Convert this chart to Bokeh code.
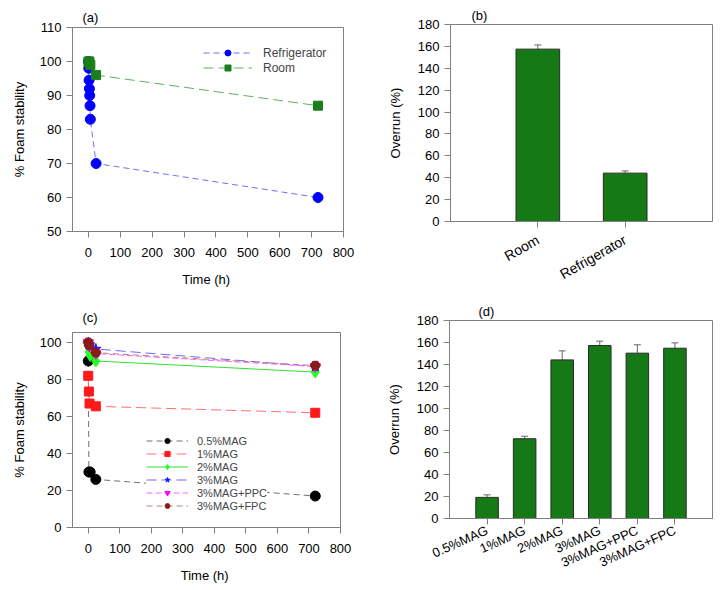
from bokeh.plotting import figure
from bokeh.layouts import column, row
from bokeh.models import (ColumnDataSource, Whisker, TeeHead, FixedTicker, Legend)
from bokeh.embed import file_html
from bokeh.resources import INLINE

FONT = "Liberation Sans"

# ---------------- data ----------------
# (a) foam stability vs time by storage
ref_t = [0, 1, 2, 3, 4, 5, 6, 24, 720]
ref_v = [100, 98, 94.5, 92, 90, 87, 83, 70, 60]
room_t = [0, 3, 6, 24, 720]
room_v = [100, 100, 99, 96, 87]
a_xticks = [0, 100, 200, 300, 400, 500, 600, 700, 800]
a_yticks = [50, 60, 70, 80, 90, 100, 110]

# (b) overrun by storage
b_cats = ["Room", "Refrigerator"]
b_vals = [157.5, 44.2]
b_err = [3.8, 2.0]

# (c) foam stability vs time by formulation
c_names = ["0.5%MAG", "1%MAG", "2%MAG", "3%MAG", "3%MAG+PPC", "3%MAG+FPC"]
c_t = [
    [0, 2, 6, 24, 720],
    [0, 2, 4, 24, 720],
    [0, 3, 6, 24, 720],
    [0, 3, 24, 720],
    [0, 3, 24, 720],
    [0, 3, 24, 720],
]
c_v = [
    [90, 30, 30, 26, 17],
    [82, 73.5, 67, 65.5, 62],
    [98, 95, 93, 90, 84],
    [100, 99, 96.5, 87],
    [100, 98, 94, 87],
    [100, 98.5, 94.5, 87.5],
]
c_yticks = [0, 20, 40, 60, 80, 100]

# (d) overrun by formulation
d_cats = ["0.5%MAG", "1%MAG", "2%MAG", "3%MAG", "3%MAG+PPC", "3%MAG+FPC"]
d_vals = [19.2, 72.5, 144.2, 157.3, 150.3, 154.8]
d_err = [2.3, 2.3, 8.2, 3.9, 7.6, 4.9]
bar_yticks = [0, 20, 40, 60, 80, 100, 120, 140, 160, 180]

GRAY = "#808080"


def style(p, tick_fs="13px", lab_fs="13px"):
    p.outline_line_color = GRAY
    p.outline_line_width = 1
    p.xgrid.visible = False
    p.ygrid.visible = False
    p.background_fill_color = "white"
    p.border_fill_color = "white"
    for ax in (p.xaxis[0], p.yaxis[0]):
        ax.axis_line_color = GRAY
        ax.major_tick_line_color = GRAY
        ax.minor_tick_line_color = None
        ax.major_tick_in = 0
        ax.major_tick_out = 6
        ax.major_label_text_font = FONT
        ax.major_label_text_font_size = tick_fs
        ax.major_label_text_color = "black"
        ax.axis_label_text_font = FONT
        ax.axis_label_text_font_size = lab_fs
        ax.axis_label_text_font_style = "normal"
        ax.axis_label_text_color = "black"
    p.yaxis[0].major_label_standoff = 5
    p.yaxis[0].axis_label_standoff = 10


def panel_title(p, text, offset, standoff):
    p.title.text = text
    p.title.align = "left"
    p.title.offset = offset
    p.title.standoff = standoff
    p.title.text_font = FONT
    p.title.text_font_size = "13px"
    p.title.text_font_style = "normal"
    p.title.text_color = "black"


# ---------------- (a) ----------------
pa = figure(frame_width=271, frame_height=204, x_range=(-50, 800), y_range=(50, 110),
            output_backend="svg", toolbar_location=None,
            min_border_left=72, min_border_right=17, min_border_top=27, min_border_bottom=59)
style(pa)
pa.xaxis.ticker = FixedTicker(ticks=a_xticks)
pa.yaxis.ticker = FixedTicker(ticks=a_yticks)
pa.xaxis.axis_label = "Time  (h)"
pa.yaxis.axis_label = "% Foam stability"
pa.xaxis.major_label_standoff = 10
pa.xaxis.axis_label_standoff = 12

r1 = pa.line(ref_t, ref_v, line_color="#6f6fff", line_dash="6 4", line_width=1)
r2 = pa.scatter(ref_t, ref_v, marker="circle", size=10, fill_color="#0000ff", line_color="#0000ff")
r3 = pa.line(room_t, room_v, line_color="#5fb05f", line_dash="10 5", line_width=1)
r4 = pa.scatter(room_t, room_v, marker="square", size=9, fill_color="#1a7f1a", line_color="#1a7f1a")
leg_a = Legend(items=[("Refrigerator", [r1, r2]), ("Room", [r3, r4])],
               location=(131, 156), padding=0, margin=0, spacing=0,
               glyph_width=49, glyph_height=15, label_height=15, label_standoff=11,
               label_text_font=FONT, label_text_font_size="12px",
               border_line_color=None, background_fill_alpha=0)
pa.add_layout(leg_a)
panel_title(pa, "(a)", 10, 5)

# ---------------- (b) ----------------
b_x = [i + 1 for i in range(len(b_cats))]
pb = figure(frame_width=262, frame_height=197, x_range=(0, len(b_cats) + 1), y_range=(0, 180),
            output_backend="svg", toolbar_location=None,
            min_border_left=90, min_border_right=2, min_border_top=24, min_border_bottom=69)
style(pb)
pb.xaxis.ticker = FixedTicker(ticks=b_x)
pb.xaxis.major_label_overrides = {x: c for x, c in zip(b_x, b_cats)}
pb.xaxis.major_label_orientation = 0.52
pb.xaxis.major_label_standoff = 11
pb.xaxis.major_label_text_font_size = "14px"
pb.yaxis.ticker = FixedTicker(ticks=bar_yticks)
pb.yaxis.axis_label = "Overrun (%)"
pb.yaxis.axis_label_standoff = 12
bsrc = ColumnDataSource(dict(x=b_x, top=b_vals,
                             upper=[v + e for v, e in zip(b_vals, b_err)]))
pb.vbar(x="x", top="top", width=0.5, source=bsrc, fill_color="#157a15", line_color="#2a2a2a")
pb.add_layout(Whisker(base="x", upper="upper", lower="top", source=bsrc, line_color="#666666",
                      lower_head=None, upper_head=TeeHead(size=7, line_color="#666666")))
panel_title(pb, "(b)", 21, 3)

# ---------------- (c) ----------------
pc = figure(frame_width=268, frame_height=195, x_range=(-50, 800), y_range=(0, 105.4),
            output_backend="svg", toolbar_location=None,
            min_border_left=72, min_border_right=20, min_border_top=40, min_border_bottom=55)
style(pc)
pc.xaxis.ticker = FixedTicker(ticks=a_xticks)
pc.yaxis.ticker = FixedTicker(ticks=c_yticks)
pc.xaxis.axis_label = "Time  (h)"
pc.yaxis.axis_label = "% Foam stability"
pc.xaxis.major_label_standoff = 10
pc.xaxis.axis_label_standoff = 12

c_line_col = ["#707070", "#ff7070", "#33dd33", "#6a6aff", "#ff66ff", "#c08080"]
c_dash = ["6 4", "10 5", "solid", "10 5", "6 3", "6 4"]
c_mark = ["circle", "square", "diamond", "star", "inverted_triangle", "hex"]
c_mcol = ["#000000", "#ff1a1a", "#22ff22", "#1a1aff", "#ff00ff", "#8b1a1a"]
c_size = [10, 9, 12, 11, 10, 10]
items = []
for name, t, v, lc, ds, mk, mc, sz in zip(c_names, c_t, c_v, c_line_col, c_dash, c_mark, c_mcol, c_size):
    ln = pc.line(t, v, line_color=lc, line_dash=ds, line_width=1)
    sc = pc.scatter(t, v, marker=mk, size=sz, fill_color=mc, line_color=mc)
    items.append((name, [ln, sc]))
leg_c = Legend(items=items, location=(74, 15), padding=0, margin=0, spacing=0,
               glyph_width=42, glyph_height=13, label_height=13, label_standoff=9,
               label_text_font=FONT, label_text_font_size="11px",
               border_line_color=None, background_fill_color="white", background_fill_alpha=1)
pc.add_layout(leg_c)
panel_title(pc, "(c)", 10, 16)

# ---------------- (d) ----------------
d_x = [i + 1 for i in range(len(d_cats))]
pd_ = figure(frame_width=263, frame_height=198, x_range=(0, len(d_cats) + 1), y_range=(0, 180),
             output_backend="svg", toolbar_location=None,
             min_border_left=89, min_border_right=2, min_border_top=28, min_border_bottom=64)
style(pd_)
pd_.xaxis.ticker = FixedTicker(ticks=d_x)
pd_.xaxis.major_label_overrides = {x: c for x, c in zip(d_x, d_cats)}
pd_.xaxis.major_label_orientation = 0.42
pd_.yaxis.ticker = FixedTicker(ticks=bar_yticks)
pd_.yaxis.axis_label = "Overrun (%)"
pd_.yaxis.axis_label_standoff = 12
dsrc = ColumnDataSource(dict(x=d_x, top=d_vals,
                             upper=[v + e for v, e in zip(d_vals, d_err)]))
pd_.vbar(x="x", top="top", width=0.6, source=dsrc, fill_color="#157a15", line_color="#2a2a2a")
pd_.add_layout(Whisker(base="x", upper="upper", lower="top", source=dsrc, line_color="#666666",
                       lower_head=None, upper_head=TeeHead(size=7, line_color="#666666")))
panel_title(pd_, "(d)", 29, 4)

layout = column(row(column(pa), column(pb)), row(column(pc), column(pd_)))
open("out.html", "w").write(file_html(layout, INLINE))
